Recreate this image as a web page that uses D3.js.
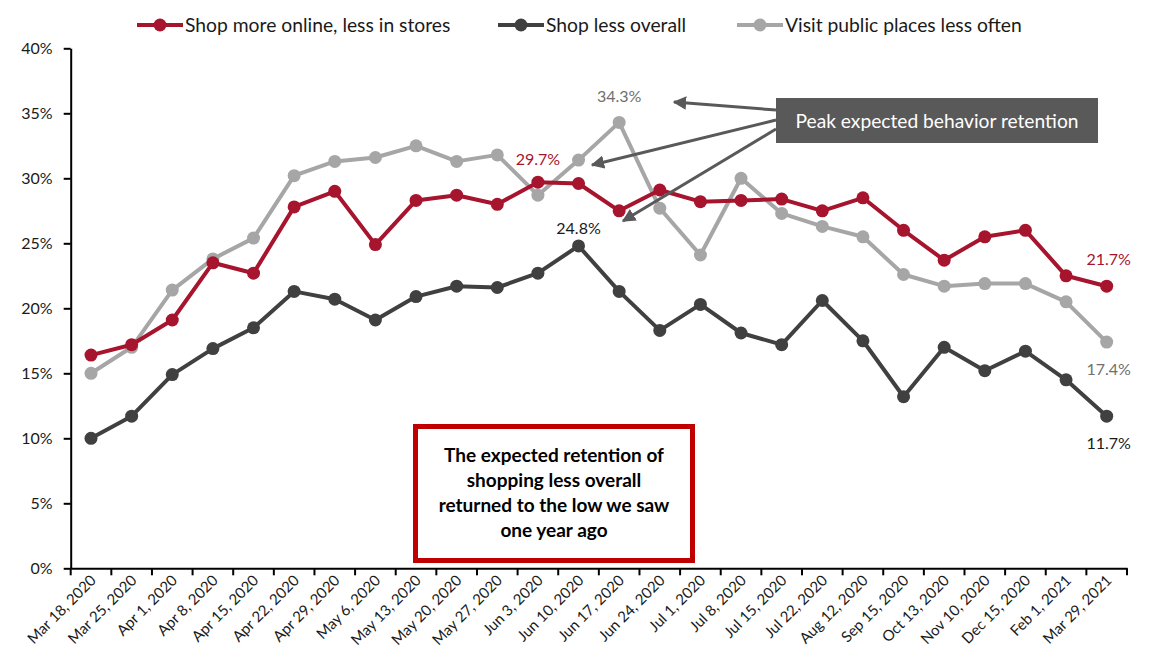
<!DOCTYPE html>
<html><head><meta charset="utf-8">
<script src="https://cdn.jsdelivr.net/npm/d3@7"></script>
<style>
html,body{margin:0;padding:0;background:#fff;}
svg{display:block;font-family:Lato,"Open Sans",sans-serif;}
</style></head>
<body>
<svg id="chart" width="1154" height="658"></svg>
<script>
const dates = ["Mar 18, 2020","Mar 25, 2020","Apr 1, 2020","Apr 8, 2020","Apr 15, 2020","Apr 22, 2020","Apr 29, 2020","May 6, 2020","May 13, 2020","May 20, 2020","May 27, 2020","Jun 3, 2020","Jun 10, 2020","Jun 17, 2020","Jun 24, 2020","Jul 1, 2020","Jul 8, 2020","Jul 15, 2020","Jul 22, 2020","Aug 12, 2020","Sep 15, 2020","Oct 13, 2020","Nov 10, 2020","Dec 15, 2020","Feb 1, 2021","Mar 29, 2021"];
const shopOnline = [16.4,17.2,19.1,23.5,22.7,27.8,29.0,24.9,28.3,28.7,28.0,29.7,29.6,27.5,29.1,28.2,28.3,28.4,27.5,28.5,26.0,23.7,25.5,26.0,22.5,21.7];
const shopLess = [10.0,11.7,14.9,16.9,18.5,21.3,20.7,19.1,20.9,21.7,21.6,22.7,24.8,21.3,18.3,20.3,18.1,17.2,20.6,17.5,13.2,17.0,15.2,16.7,14.5,11.7];
const visitLess = [15.0,17.0,21.4,23.8,25.4,30.2,31.3,31.6,32.5,31.3,31.8,28.7,31.4,34.3,27.7,24.1,30.0,27.3,26.3,25.5,22.6,21.7,21.9,21.9,20.5,17.4];
const seriesNames = ["Shop more online, less in stores","Shop less overall","Visit public places less often"];
const yTicks = [0,5,10,15,20,25,30,35,40];
const boxLines = ["The expected retention of","shopping less overall","returned to the low we saw","one year ago"];
const calloutText = "Peak expected behavior retention";

const colors = ["#A6142D","#404040","#A6A6A6"];
const series = [shopOnline, shopLess, visitLess];

const svg = d3.select("#chart");
const x = d3.scaleBand().domain(dates).range([70.7,1127]);
const y = d3.scaleLinear().domain([0,40]).range([568.3,48.3]);
const cx = d => x(d) + x.bandwidth()/2;

// Y axis
const yAxis = svg.append("g").attr("transform","translate(70.7,0)")
  .call(d3.axisLeft(y).tickValues(yTicks).tickFormat(d=>d+"%").tickSize(7).tickSizeOuter(0));
yAxis.select(".domain").attr("stroke","#000").attr("stroke-width",2);
yAxis.selectAll(".tick line").attr("stroke","#000").attr("stroke-width",2);
yAxis.selectAll(".tick text").attr("font-size",16).attr("fill","#1a1a1a").attr("x",-18).attr("font-family","Lato");

// X axis
const xAxis = svg.append("g").attr("transform","translate(0,568.3)")
  .call(d3.axisBottom(x).tickSize(0).tickSizeOuter(0));
xAxis.select(".domain").attr("stroke","#000").attr("stroke-width",2);
xAxis.selectAll(".tick text")
  .attr("font-size",15).attr("fill","#1a1a1a").attr("font-family","Lato")
  .attr("text-anchor","end").attr("dy",0).attr("y",0)
  .attr("transform","translate(6,13) rotate(-45)");
// boundary tick marks
const bounds = dates.map(d=>x(d)).concat([x(dates[dates.length-1])+x.step()]);
xAxis.selectAll("line.bt").data(bounds).enter().append("line").attr("class","bt")
  .attr("x1",d=>d).attr("x2",d=>d).attr("y1",0).attr("y2",7)
  .attr("stroke","#000").attr("stroke-width",2);

// Lines
const line = d3.line().x((v,i)=>cx(dates[i])).y(v=>y(v));
[1,2,0].forEach(si=>{
  const g = svg.append("g");
  g.append("path").datum(series[si]).attr("d",line).attr("fill","none")
    .attr("stroke",colors[si]).attr("stroke-width",4).attr("stroke-linejoin","round");
  g.selectAll("circle").data(series[si]).enter().append("circle")
    .attr("cx",(v,i)=>cx(dates[i])).attr("cy",v=>y(v)).attr("r",6.5).attr("fill",colors[si]);
});

// Legend
const legendX = [160,521,760];
seriesNames.forEach((n,i)=>{
  const g = svg.append("g").attr("transform",`translate(${legendX[i]},25)`);
  g.append("line").attr("x1",-23).attr("x2",23).attr("stroke",colors[i]).attr("stroke-width",4);
  g.append("circle").attr("r",6.5).attr("fill",colors[i]);
  g.append("text").attr("x",25).attr("y",6.5).attr("font-size",19.3).attr("fill","#1a1a1a").text(n);
});

// Data labels
const labels = [
  {s:0,i:11,dx:0,dy:-17,c:"#A6142D"},
  {s:2,i:13,dx:0,dy:-20,c:"#6f6f6f"},
  {s:1,i:12,dx:0,dy:-12,c:"#1a1a1a"},
  {s:0,i:25,dx:2,dy:-21,c:"#A6142D"},
  {s:2,i:25,dx:2,dy:33,c:"#6f6f6f"},
  {s:1,i:25,dx:2,dy:33,c:"#1a1a1a"}
];
labels.forEach(l=>{
  const v = series[l.s][l.i];
  svg.append("text").attr("x",cx(dates[l.i])+l.dx).attr("y",y(v)+l.dy)
    .attr("text-anchor","middle").attr("font-size",16).attr("fill",l.c).text(v.toFixed(1)+"%");
});

// Callout box
svg.append("rect").attr("x",776).attr("y",98).attr("width",322).attr("height",45).attr("fill","#595959");
svg.append("text").attr("x",937).attr("y",127.5).attr("text-anchor","middle").attr("font-size",19.2)
  .attr("fill","#fff").text(calloutText);

// Arrows
const defs = svg.append("defs");
defs.append("marker").attr("id","ah").attr("viewBox","0 0 10 10").attr("refX",9).attr("refY",5)
  .attr("markerWidth",4.5).attr("markerHeight",4.5).attr("orient","auto")
  .append("path").attr("d","M0,0 L10,5 L0,10 z").attr("fill","#595959");
const arrows = [[776,110,674,102],[776,120,592,165],[776,129,623,221]];
arrows.forEach(a=>{
  svg.append("line").attr("x1",a[0]).attr("y1",a[1]).attr("x2",a[2]).attr("y2",a[3])
    .attr("stroke","#595959").attr("stroke-width",3).attr("marker-end","url(#ah)");
});

// Red text box
svg.append("rect").attr("x",415.5).attr("y",426.5).attr("width",277).attr("height",134)
  .attr("fill","#fff").attr("stroke","#C00000").attr("stroke-width",5);
boxLines.forEach((t,i)=>{
  svg.append("text").attr("x",554).attr("y",461.5+i*25).attr("text-anchor","middle")
    .attr("font-size",19).attr("font-weight","bold").attr("fill","#000").text(t);
});
</script>
</body></html>
